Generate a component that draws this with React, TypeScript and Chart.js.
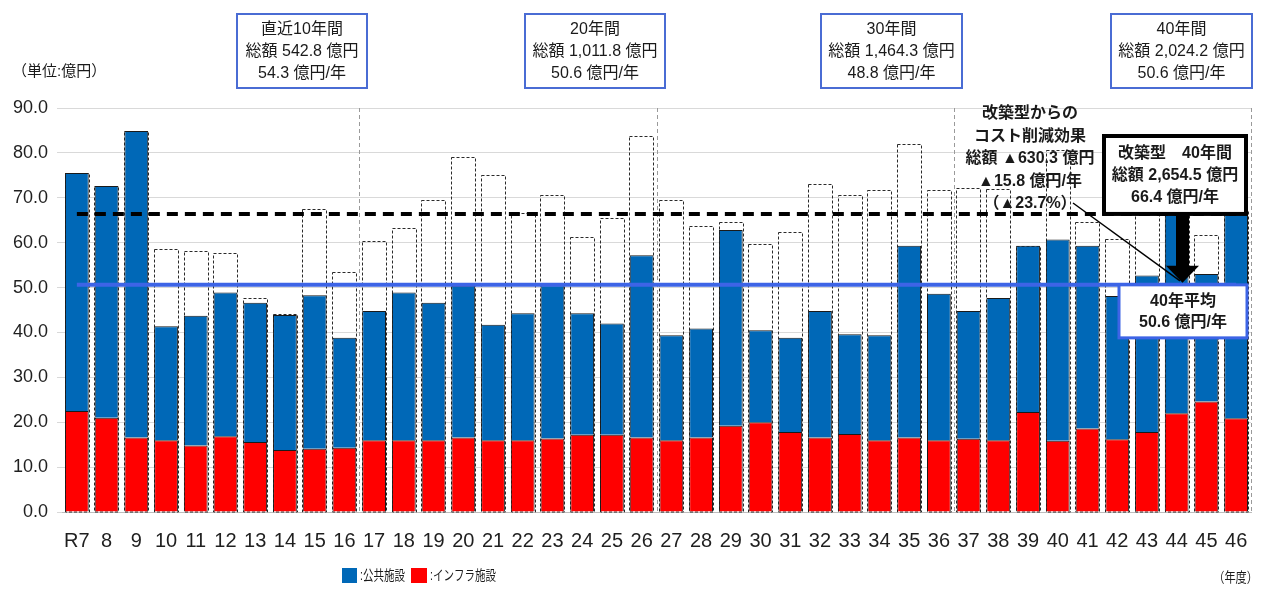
import React, { useEffect, useRef } from 'react';
import { Chart, registerables } from 'chart.js';

Chart.register(...registerables);

// ---- data ----
const YEARS = ['R7', '8', '9', '10', '11', '12', '13', '14', '15', '16', '17', '18', '19', '20', '21', '22', '23', '24', '25', '26', '27', '28', '29', '30', '31', '32', '33', '34', '35', '36', '37', '38', '39', '40', '41', '42', '43', '44', '45', '46'];
// インフラ施設 (億円)
const INFRA = [22.5, 21.0, 16.6, 16.0, 14.8, 16.9, 15.6, 13.8, 14.1, 14.3, 16.0, 16.0, 16.0, 16.6, 16.0, 16.0, 16.4, 17.2, 17.2, 16.6, 16.0, 16.6, 19.2, 20.0, 17.8, 16.6, 17.4, 16.0, 16.6, 16.0, 16.3, 16.0, 22.3, 15.9, 18.6, 16.2, 17.8, 22.0, 24.6, 20.9];
// 公共施設 (億円)
const PUBLIC = [53.0, 51.6, 68.3, 25.4, 28.9, 32.0, 31.0, 30.1, 34.2, 24.5, 28.8, 32.9, 30.6, 33.8, 25.7, 28.3, 34.1, 27.1, 24.8, 40.6, 23.4, 24.3, 43.6, 20.5, 21.0, 28.2, 22.2, 23.4, 42.7, 32.6, 28.5, 31.7, 37.0, 44.8, 40.7, 31.9, 34.9, 45.4, 28.4, 46.3];
// 改築型 total (dashed outline)
const RENOVATION = [75.5, 72.6, 84.9, 58.6, 58.2, 57.8, 47.7, 44.0, 67.5, 53.5, 60.4, 63.2, 69.4, 79.1, 75.1, 66.5, 70.6, 61.3, 65.5, 83.8, 69.5, 63.7, 64.6, 59.6, 62.4, 73.1, 70.7, 71.7, 82.0, 71.7, 72.2, 72.0, 59.3, 80.6, 64.7, 60.9, 68.0, 67.4, 61.6, 67.2];
const RENO_AVG = 66.4;
const LONGLIFE_AVG = 50.6;
const Y_MIN = 0;
const Y_MAX = 90;
const Y_STEP = 10;
const PERIOD_BOUNDARIES = [9.5, 19.5, 29.5, 39.5];

const PERIOD_BOXES = [
  ['直近10年間', '総額 542.8 億円', '54.3 億円/年'],
  ['20年間', '総額 1,011.8 億円', '50.6 億円/年'],
  ['30年間', '総額 1,464.3 億円', '48.8 億円/年'],
  ['40年間', '総額 2,024.2 億円', '50.6 億円/年'],
];
const SAVINGS_TEXT = ['改築型からの', 'コスト削減効果', '総額 ▲630.3 億円', '▲15.8 億円/年', '（▲23.7%）'];
const RENO_BOX_TEXT = ['改築型　40年間', '総額 2,654.5 億円', '66.4 億円/年'];
const AVG_BOX_TEXT = ['40年平均', '50.6 億円/年'];
const UNIT_LABEL = '（単位:億円）';
const YEAR_LABEL = '（年度）';
const LEGEND_PUBLIC = '公共施設';
const LEGEND_INFRA = 'インフラ施設';

const BLUE = '#0068B7';
const RED = '#FF0000';
const LINE_BLUE = '#3D64E6';
const BOX_BLUE = '#4A6CD4';
const FONT = "'Liberation Sans', 'Noto Sans CJK JP', sans-serif";

function txt(ctx: CanvasRenderingContext2D, s: string, x: number, y: number, font: string, align: CanvasTextAlign = 'center', sx = 1, color = '#1a1a1a') {
  ctx.save();
  ctx.font = font;
  ctx.fillStyle = color;
  ctx.textAlign = align;
  ctx.textBaseline = 'middle';
  ctx.translate(x, y);
  ctx.scale(sx, 1);
  ctx.fillText(s, 0, 0);
  ctx.restore();
}

const RENO_INDEX = 2;

const annotPlugin = {
  id: 'annot',
  beforeDatasetsDraw(chart: any) {
    const { ctx, chartArea } = chart;
    const xs = chart.scales.x;
    ctx.save();
    ctx.strokeStyle = '#9a9a9a';
    ctx.lineWidth = 1;
    ctx.setLineDash([4, 3]);
    PERIOD_BOUNDARIES.forEach((b) => {
      const x = Math.round(xs.getPixelForValue(b)) + 0.5;
      ctx.beginPath();
      ctx.moveTo(x, chartArea.top);
      ctx.lineTo(x, chartArea.bottom);
      ctx.stroke();
    });
    ctx.restore();
  },
  afterDatasetDraw(chart: any, args: any) {
    if (args.index !== RENO_INDEX) return;
    const ctx = chart.ctx;
    ctx.save();
    ctx.setLineDash([3, 2]);
    ctx.strokeStyle = '#2a2a2a';
    ctx.lineWidth = 1;
    args.meta.data.forEach((el: any) => {
      const { x, y, base, width } = el.getProps(['x', 'y', 'base', 'width'], true);
      const l = Math.round(x - width / 2) + 0.5;
      const t = Math.round(y) + 0.5;
      ctx.strokeRect(l, t, Math.round(width), Math.round(base) - t);
    });
    ctx.restore();
  },
  afterDraw(chart: any) {
    const ctx: CanvasRenderingContext2D = chart.ctx;
    const ys = chart.scales.y;
    ctx.save();
    // unit label
    txt(ctx, UNIT_LABEL, 12, 72, `15px ${FONT}`, 'left');

    // period boxes
    const boxes = [
      [237, 130],
      [525, 140],
      [821, 141],
      [1111, 141],
    ];
    PERIOD_BOXES.forEach((lines, i) => {
      const [bx, bw] = boxes[i];
      ctx.fillStyle = '#fff';
      ctx.fillRect(bx, 14, bw, 74);
      ctx.strokeStyle = BOX_BLUE;
      ctx.lineWidth = 2;
      ctx.strokeRect(bx, 14, bw, 74);
      lines.forEach((s, j) => txt(ctx, s, bx + bw / 2, 30 + j * 22, `16px ${FONT}`));
    });

    // savings text
    SAVINGS_TEXT.forEach((s, j) => txt(ctx, s, 1030, 114 + j * 22.5, `bold 16px ${FONT}`));

    const yReno = ys.getPixelForValue(RENO_AVG);
    const yAvg = ys.getPixelForValue(LONGLIFE_AVG);

    // leader line
    ctx.strokeStyle = '#000';
    ctx.lineWidth = 1.5;
    ctx.setLineDash([]);
    ctx.beginPath();
    ctx.moveTo(1073, 203);
    ctx.lineTo(1180, yAvg - 4);
    ctx.stroke();

    // arrow
    ctx.fillStyle = '#000';
    ctx.fillRect(1176, yReno, 13, yAvg - 18 - yReno);
    ctx.beginPath();
    ctx.moveTo(1166, yAvg - 19);
    ctx.lineTo(1199, yAvg - 19);
    ctx.lineTo(1182.5, yAvg - 2);
    ctx.closePath();
    ctx.fill();

    // renovation box
    ctx.fillStyle = '#fff';
    ctx.fillRect(1104, 136, 142, yReno - 136);
    ctx.strokeStyle = '#000';
    ctx.lineWidth = 4;
    ctx.strokeRect(1104, 136, 142, yReno - 136);
    RENO_BOX_TEXT.forEach((s, j) => txt(ctx, s, 1175, 154 + j * 22, `bold 16px ${FONT}`));

    // average box
    ctx.fillStyle = '#fff';
    ctx.fillRect(1119, yAvg, 128, 53);
    ctx.strokeStyle = LINE_BLUE;
    ctx.lineWidth = 3;
    ctx.strokeRect(1119, yAvg, 128, 53);
    AVG_BOX_TEXT.forEach((s, j) => txt(ctx, s, 1183, yAvg + 17 + j * 21, `bold 16px ${FONT}`));

    // legend
    ctx.fillStyle = BLUE;
    ctx.fillRect(342, 568, 15, 15);
    txt(ctx, ':' + LEGEND_PUBLIC, 360, 576, `14px ${FONT}`, 'left', 0.75);
    ctx.fillStyle = RED;
    ctx.fillRect(411, 568, 16, 15);
    txt(ctx, ':' + LEGEND_INFRA, 430, 576, `14px ${FONT}`, 'left', 0.75);

    txt(ctx, YEAR_LABEL, 1258, 578, `14px ${FONT}`, 'right', 0.8);
    ctx.restore();
  },
};

export default function App() {
  const ref = useRef<HTMLCanvasElement | null>(null);
  useEffect(() => {
    document.body.style.margin = '0';
    const c = ref.current;
    if (!c) return;
    const chart = new Chart(c, {
      type: 'bar',
      data: {
        labels: YEARS,
        datasets: [
          {
            type: 'line',
            label: '改築型平均',
            data: YEARS.map(() => RENO_AVG),
            borderColor: '#000',
            borderWidth: 4,
            borderDash: [11, 7],
            pointRadius: 0,
            stack: 'reno-avg',
            order: 0,
          } as any,
          {
            type: 'line',
            label: '40年平均',
            data: YEARS.map(() => LONGLIFE_AVG),
            borderColor: LINE_BLUE,
            borderWidth: 4,
            pointRadius: 0,
            stack: 'll-avg',
            order: 0,
          } as any,
          {
            label: '改築型',
            data: RENOVATION,
            backgroundColor: 'rgba(0,0,0,0)',
            borderWidth: 0,
            stack: 'reno',
            grouped: false,
            order: 2,
            barPercentage: 0.82,
            categoryPercentage: 1,
          } as any,
          {
            label: LEGEND_INFRA,
            data: INFRA,
            backgroundColor: RED,
            borderColor: '#1a1a1a',
            borderWidth: 1,
            stack: 'll',
            grouped: false,
            order: 1,
            barPercentage: 0.8,
            categoryPercentage: 1,
          } as any,
          {
            label: LEGEND_PUBLIC,
            data: PUBLIC,
            backgroundColor: BLUE,
            borderColor: '#1a1a1a',
            borderWidth: 1,
            stack: 'll',
            grouped: false,
            order: 1,
            barPercentage: 0.8,
            categoryPercentage: 1,
          } as any,
        ],
      },
      options: {
        animation: false,
        responsive: true,
        maintainAspectRatio: false,
        layout: { padding: { top: 108, left: 0, right: 10, bottom: 0 } },
        plugins: { legend: { display: false }, tooltip: { enabled: false } },
        scales: {
          x: {
            stacked: true,
            grid: { display: false },
            border: { display: true, color: '#bdbdbd' },
            ticks: {
              autoSkip: false,
              maxRotation: 0,
              padding: 9,
              color: '#1f1f1f',
              font: { family: FONT, size: 20 },
            },
            afterFit: (s: any) => {
              s.height = 98;
            },
          },
          y: {
            stacked: true,
            min: Y_MIN,
            max: Y_MAX,
            border: { display: false },
            grid: { color: '#d9d9d9', tickLength: 5 },
            ticks: {
              stepSize: Y_STEP,
              padding: 9,
              color: '#1f1f1f',
              font: { family: FONT, size: 18 },
              callback: (v: any) => Number(v).toFixed(1),
            },
            afterFit: (s: any) => {
              s.width = 62;
            },
          },
        },
      },
      plugins: [annotPlugin],
    });
    return () => chart.destroy();
  }, []);
  return (
    <div style={{ position: 'relative', width: 1261, height: 610 }}>
      <canvas ref={ref} />
    </div>
  );
}
